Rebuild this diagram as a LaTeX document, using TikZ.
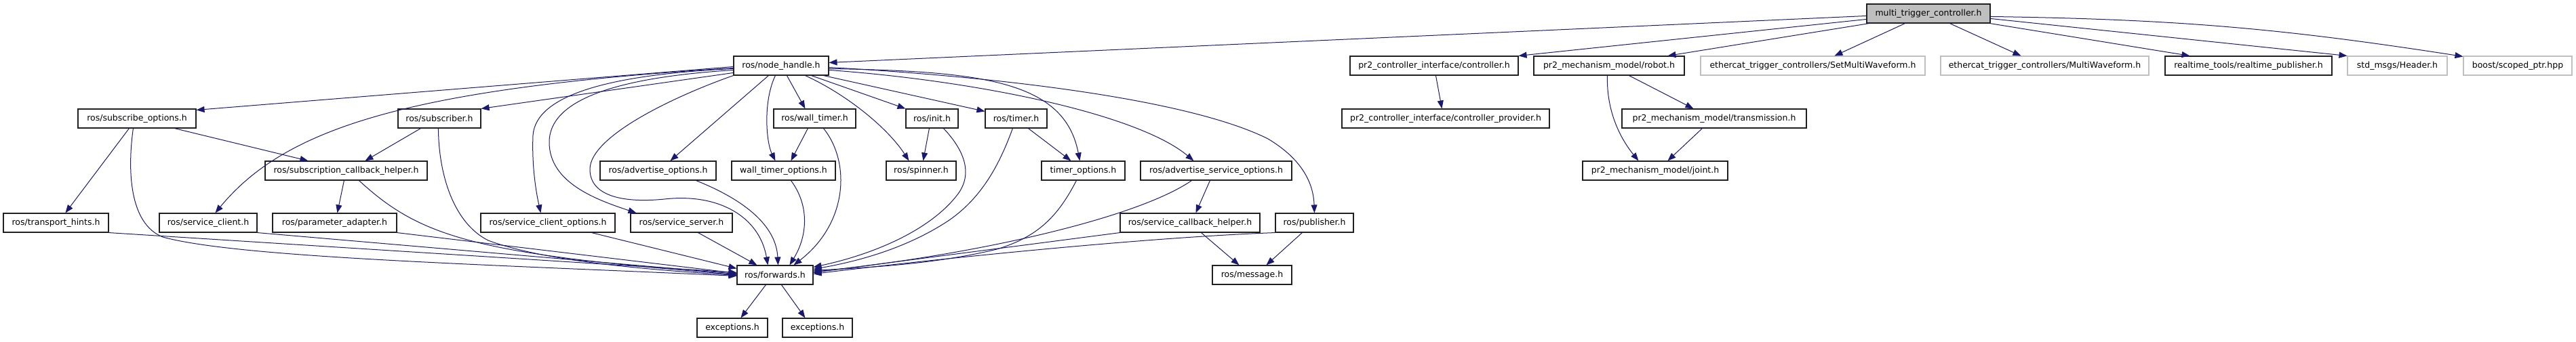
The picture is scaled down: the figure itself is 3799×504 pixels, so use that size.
\documentclass[tikz,border=0pt]{standalone}
\usepackage{fontspec}
\setmainfont{DejaVu Sans}
\usetikzlibrary{arrows.meta,calc}
\definecolor{edgeblue}{HTML}{191970}
\definecolor{lgray}{HTML}{BFBFBF}
\definecolor{bordergray}{HTML}{202020}
\tikzset{
 box/.style={draw=bordergray, line width=1.1pt, fill=white, inner sep=0pt, minimum height=28pt, font=\fontsize{12.5}{15}\selectfont},
 gbox/.style={box, draw=lgray},
 cur/.style={box, fill=lgray},
 edge/.style={draw=edgeblue, line width=1pt, -{Triangle[length=12pt,width=9pt]}},
}
\begin{document}
\begin{tikzpicture}[x=1pt,y=-1pt]
\useasboundingbox (0,0) rectangle (3799,504);
\fill[white] (0,0) rectangle (3799,504);
% row 0
\node[cur, minimum width=182pt] (mtc) at (2844,20) {multi\_trigger\_controller.h};
% row 1
\node[box, minimum width=140pt] (nh) at (1152,97) {ros/node\_handle.h};
\node[box, minimum width=248pt] (cif) at (2115,97) {pr2\_controller\_interface/controller.h};
\node[box, minimum width=222pt] (robot) at (2373,97) {pr2\_mechanism\_model/robot.h};
\node[gbox, minimum width=331pt] (smw) at (2673.5,97) {ethercat\_trigger\_controllers/SetMultiWaveform.h};
\node[gbox, minimum width=307pt] (mw) at (3015.5,97) {ethercat\_trigger\_controllers/MultiWaveform.h};
\node[box, minimum width=246pt] (rtp) at (3316,97) {realtime\_tools/realtime\_publisher.h};
\node[gbox, minimum width=147pt] (hdr) at (3535.5,97) {std\_msgs/Header.h};
\node[gbox, minimum width=160pt] (bsp) at (3713,97) {boost/scoped\_ptr.hpp};
% row 2
\node[box, minimum width=174pt] (so) at (202,175) {ros/subscribe\_options.h};
\node[box, minimum width=122pt] (sub) at (648,175) {ros/subscriber.h};
\node[box, minimum width=121pt] (wt) at (1201.5,175) {ros/wall\_timer.h};
\node[box, minimum width=77pt] (init) at (1374.5,175) {ros/init.h};
\node[box, minimum width=91pt] (tim) at (1498.5,175) {ros/timer.h};
\node[box, minimum width=306pt] (cprov) at (2132,175) {pr2\_controller\_interface/controller\_provider.h};
\node[box, minimum width=272pt] (trans) at (2528,175) {pr2\_mechanism\_model/transmission.h};
% row 3
\node[box, minimum width=239pt] (sch) at (510.5,252) {ros/subscription\_callback\_helper.h};
\node[box, minimum width=171pt] (ao) at (970.5,252) {ros/advertise\_options.h};
\node[box, minimum width=153pt] (wto) at (1155.5,252) {wall\_timer\_options.h};
\node[box, minimum width=103pt] (spin) at (1358.5,252) {ros/spinner.h};
\node[box, minimum width=123pt] (topt) at (1597.5,252) {timer\_options.h};
\node[box, minimum width=223pt] (aso) at (1793.5,252) {ros/advertise\_service\_options.h};
\node[box, minimum width=214pt] (joint) at (2441,252) {pr2\_mechanism\_model/joint.h};
% row 4
\node[box, minimum width=155pt] (th) at (82.5,329) {ros/transport\_hints.h};
\node[box, minimum width=144pt] (sc) at (307,329) {ros/service\_client.h};
\node[box, minimum width=183pt] (pa) at (493.5,329) {ros/parameter\_adapter.h};
\node[box, minimum width=198pt] (sco) at (808,329) {ros/service\_client\_options.h};
\node[box, minimum width=150pt] (ss) at (1005,329) {ros/service\_server.h};
\node[box, minimum width=206pt] (sbh) at (1755,329) {ros/service\_callback\_helper.h};
\node[box, minimum width=115pt] (pub) at (1938.5,329) {ros/publisher.h};
% row 5
\node[box, minimum width=112pt] (fwd) at (1143,406) {ros/forwards.h};
\node[box, minimum width=117pt] (msg) at (1846.5,406) {ros/message.h};
% row 6
\node[box, minimum width=104pt] (ex1) at (1080,484) {exceptions.h};
\node[box, minimum width=103pt] (ex2) at (1205.5,484) {exceptions.h};

% edges from multi_trigger_controller.h
\draw[edge] ($(mtc.north west)+(0,18)$) -- ($(nh.north east)+(0,10)$);
\draw[edge] ($(mtc.north west)+(0,23)$) -- (cif.north east);
\draw[edge] ($(mtc.south west)+(4,0)$) -- ($(robot.north west)+(198,0)$);
\draw[edge] ($(mtc.south west)+(57,0)$) -- ($(smw.north west)+(198,0)$);
\draw[edge] ($(mtc.south west)+(123,0)$) -- ($(mw.north west)+(119,0)$);
\draw[edge] ($(mtc.south east)+(-1,0)$) -- ($(rtp.north west)+(37,0)$);
\draw[edge] ($(mtc.north east)+(0,22)$) -- (hdr.north west);
\draw[edge] ($(mtc.north east)+(0,19)$) to[bend left=4] ($(bsp.north west)+(0,1)$);

% pr2 edges
\draw[edge] ($(cif.south west)+(127,0)$) -- ($(cprov.north west)+(148,0)$);
\draw[edge] ($(robot.south west)+(141,0)$) -- ($(trans.north west)+(106,0)$);
\draw[edge] ($(robot.south west)+(109,0)$) .. controls (2369,165) and (2390,205) .. ($(joint.north west)+(83,0)$);
\draw[edge] ($(trans.south west)+(119,0)$) -- ($(joint.north west)+(126,0)$);

% edges from ros/node_handle.h
\draw[edge] ($(nh.north west)+(0,16)$) -- ($(so.north east)+(0,2)$);
\draw[edge] ($(nh.north west)+(0,25)$) -- (sub.north east);
\draw[edge] ($(nh.north west)+(0,18)$) .. controls (600,130) and (420,190) .. ($(sc.north west)+(83,0)$);
\draw[edge] ($(nh.north west)+(0,19)$) .. controls (900,110) and (790,140) .. (786,200) .. controls (784,250) and (792,290) .. ($(sco.north west)+(89,0)$);
\draw[edge] ($(nh.north west)+(0,21)$) .. controls (900,115) and (810,150) .. (810,210) .. controls (810,270) and (880,295) .. ($(ss.north west)+(9,0)$);
\draw[edge] (nh.south west) .. controls (1000,140) and (870,200) .. (870,250) .. controls (870,290) and (920,300) .. (980,294) .. controls (1060,285) and (1120,320) .. ($(fwd.north west)+(46,0)$);
\draw[edge] ($(nh.south west)+(52,0)$) -- ($(ao.north west)+(104,0)$);
\draw[edge] ($(nh.south west)+(62,0)$) .. controls (1125,150) and (1130,210) .. ($(wto.north west)+(65,0)$);
\draw[edge] ($(nh.south west)+(79,0)$) -- ($(wt.north west)+(47,0)$);
\draw[edge] ($(nh.south west)+(106,0)$) .. controls (1250,140) and (1310,190) .. ($(spin.north west)+(34,0)$);
\draw[edge] ($(nh.south west)+(115,0)$) -- (init.north west);
\draw[edge] ($(nh.south west)+(133,0)$) -- ($(tim.north west)+(0,4)$);
\draw[edge] ($(nh.north east)+(0,19)$) .. controls (1450,105) and (1570,120) .. ($(topt.north west)+(57,0)$);
\draw[edge] ($(nh.north east)+(0,21)$) .. controls (1450,120) and (1680,170) .. ($(aso.north west)+(79,0)$);
\draw[edge] ($(nh.north east)+(0,17)$) .. controls (1500,115) and (1760,150) .. (1870,205) .. controls (1920,235) and (1937,270) .. ($(pub.north west)+(58,0)$);

% second-level edges
\draw[edge] ($(so.south west)+(143,0)$) -- ($(sch.north west)+(64,0)$);
\draw[edge] ($(so.south west)+(76,0)$) -- ($(th.north west)+(92,0)$);
\draw[edge] ($(sub.south west)+(34,0)$) -- ($(sch.north west)+(148,0)$);
\draw[edge] ($(sch.south west)+(117,0)$) -- ($(pa.north west)+(96,0)$);
\draw[edge] ($(wt.south west)+(51,0)$) -- ($(wto.north west)+(88,0)$);
\draw[edge] ($(init.south west)+(35,0)$) -- ($(spin.north west)+(55,0)$);
\draw[edge] ($(tim.south west)+(64,0)$) -- ($(topt.north west)+(44,0)$);
\draw[edge] ($(aso.south west)+(103,0)$) -- ($(sbh.north west)+(112,0)$);

% edges into ros/forwards.h
\draw[edge] (th.south east) -- ($(fwd.north west)+(0,11)$);
\draw[edge] ($(so.south west)+(82,0)$) .. controls (188,250) and (190,330) .. (240,350) .. controls (350,380) and (700,390) .. ($(fwd.north west)+(0,16)$);
\draw[edge] (sc.south east) -- ($(fwd.north west)+(0,13)$);
\draw[edge] (pa.south east) -- ($(fwd.north west)+(0,12)$);
\draw[edge] ($(sch.south west)+(139,0)$) .. controls (620,350) and (700,375) .. ($(fwd.north west)+(0,14)$);
\draw[edge] ($(sub.south west)+(60,0)$) .. controls (647,260) and (670,330) .. (720,355) .. controls (800,385) and (950,398) .. ($(fwd.north west)+(0,15)$);
\draw[edge] ($(sco.south west)+(164,0)$) -- ($(fwd.north west)+(0,5)$);
\draw[edge] ($(ss.south west)+(100,0)$) -- ($(fwd.north west)+(30,0)$);
\draw[edge] ($(ao.south west)+(142,0)$) .. controls (1110,300) and (1145,340) .. ($(fwd.north west)+(61,0)$);
\draw[edge] ($(wto.south west)+(88,0)$) .. controls (1195,305) and (1190,350) .. ($(fwd.north west)+(78,0)$);
\draw[edge] ($(wt.south west)+(74,0)$) .. controls (1255,240) and (1250,330) .. ($(fwd.north west)+(84,0)$);
\draw[edge] ($(init.south west)+(56,0)$) .. controls (1425,225) and (1435,260) .. (1410,290) .. controls (1370,340) and (1290,375) .. ($(fwd.north east)+(0,3)$);
\draw[edge] ($(tim.south west)+(41,0)$) .. controls (1475,240) and (1450,290) .. (1400,325) .. controls (1340,365) and (1270,385) .. ($(fwd.north east)+(0,6)$);
\draw[edge] ($(topt.south west)+(52,0)$) .. controls (1560,320) and (1530,350) .. (1470,368) .. controls (1380,390) and (1280,395) .. ($(fwd.north east)+(0,8)$);
\draw[edge] ($(aso.south west)+(76,0)$) .. controls (1680,320) and (1450,375) .. ($(fwd.north east)+(0,10)$);
\draw[edge] (sbh.south west) -- ($(fwd.north east)+(0,11)$);
\draw[edge] (pub.south west) .. controls (1700,350) and (1400,380) .. ($(fwd.north east)+(0,13)$);

% bottom edges
\draw[edge] ($(fwd.south west)+(43,0)$) -- ($(ex1.north west)+(65,0)$);
\draw[edge] ($(fwd.south west)+(66,0)$) -- ($(ex2.north west)+(34,0)$);
\draw[edge] ($(sbh.south west)+(120,0)$) -- ($(msg.north west)+(40,0)$);
\draw[edge] ($(pub.south west)+(40,0)$) -- ($(msg.north west)+(80,0)$);
\end{tikzpicture}
\end{document}
